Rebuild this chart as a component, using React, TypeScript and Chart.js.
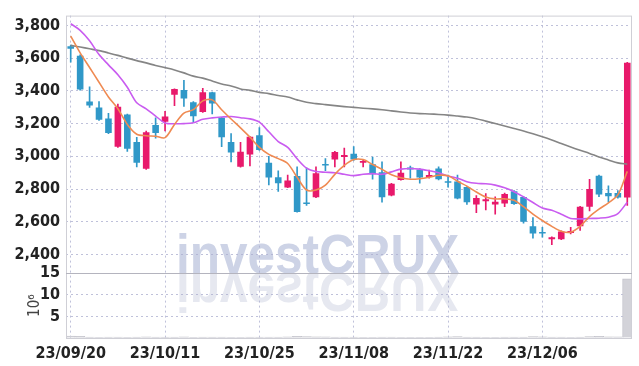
import React, { useEffect, useRef } from "react";
import { Chart, registerables } from "chart.js";
Chart.register(...registerables);

const dates = [
  "23/09/20","23/09/21","23/09/22","23/09/25","23/09/26","23/09/27","23/10/04","23/10/05","23/10/06","23/10/10",
  "23/10/11","23/10/12","23/10/13","23/10/16","23/10/17","23/10/18","23/10/19","23/10/20","23/10/23","23/10/24",
  "23/10/25","23/10/26","23/10/27","23/10/30","23/10/31","23/11/01","23/11/02","23/11/03","23/11/06","23/11/07",
  "23/11/08","23/11/09","23/11/10","23/11/13","23/11/14","23/11/15","23/11/16","23/11/17","23/11/20","23/11/21",
  "23/11/22","23/11/23","23/11/24","23/11/27","23/11/28","23/11/29","23/11/30","23/12/01","23/12/04","23/12/05",
  "23/12/06","23/12/07","23/12/08","23/12/11","23/12/12","23/12/13","23/12/14","23/12/15","23/12/18","23/12/19",
];

const opens = [
  3672,3614,3335,3299,3231,3059,3255,3087,2924,3191,
  3211,3377,3405,3331,3271,3391,3235,3087,2936,3011,
  3129,2960,2872,2810,2880,2712,2750,2948,2981,2996,
  3016,2960,2952,2902,2760,2856,2932,2920,2874,2926,
  2842,2846,2812,2706,2726,2706,2712,2786,2752,2572,
  2532,2493,2493,2532,2572,2692,2882,2776,2776,2748,
];
const highs = [
  3680,3620,3425,3335,3263,3319,3258,3116,3155,3235,
  3275,3413,3465,3335,3415,3393,3238,3139,3085,3121,
  3175,3000,2912,2886,2936,2930,2936,2986,3030,3051,
  3059,2975,2996,2966,2835,2966,2940,2925,2916,2936,
  2886,2886,2815,2760,2772,2752,2775,2790,2755,2626,
  2566,2508,2544,2566,2695,2860,2885,2820,2790,3575,
];
const lows = [
  3575,3405,3299,3220,3138,3055,3030,2936,2920,3111,
  3155,3309,3305,3209,3268,3259,3059,2966,2934,2942,
  3036,2826,2786,2808,2658,2700,2748,2912,2936,2936,
  2975,2936,2860,2720,2758,2854,2866,2836,2866,2856,
  2812,2740,2706,2656,2672,2646,2692,2706,2592,2500,
  2506,2460,2490,2526,2547,2667,2754,2722,2745,2700,
];
const closes = [
  3658,3409,3311,3223,3143,3303,3047,2960,3147,3143,
  3243,3411,3353,3245,3391,3323,3116,3023,3028,3119,
  3039,2870,2836,2852,2660,2708,2896,2944,3026,3008,
  2980,2972,2890,2750,2832,2900,2920,2870,2886,2860,
  2838,2742,2720,2746,2738,2722,2770,2708,2600,2528,
  2528,2505,2541,2544,2692,2800,2766,2756,2748,3572,
];
// volume in millions of shares
const volumes = [
  0.45,0.4,0.2,0.15,0.2,0.2,0.15,0.2,0.25,0.2,
  0.2,0.2,0.25,0.15,0.2,0.2,0.2,0.15,0.15,0.2,
  0.2,0.2,0.2,0.25,0.4,0.35,0.3,0.25,0.2,0.2,
  0.2,0.15,0.15,0.2,0.2,0.15,0.15,0.15,0.15,0.2,
  0.3,0.35,0.2,0.2,0.15,0.15,0.2,0.2,0.2,0.35,
  0.3,0.2,0.2,0.15,0.2,0.35,0.4,0.3,0.25,13.7,
];
const maShort = [
  3734,3632,3543,3453,3363,3291,3195,3135,3126,3123,
  3114,3195,3264,3285,3339,3345,3285,3228,3174,3117,
  3055,3012,2986,2956,2872,2794,2794,2824,2890,2944,
  2980,2980,2950,2920,2887,2869,2860,2863,2872,2884,
  2881,2848,2818,2782,2752,2740,2740,2731,2692,2647,
  2608,2572,2542,2536,2572,2632,2677,2716,2764,2908,
];
const maMid = [
  3810,3770,3706,3622,3559,3498,3422,3327,3290,3246,
  3204,3199,3200,3205,3226,3235,3240,3243,3236,3229,
  3209,3150,3090,3055,2985,2928,2907,2903,2900,2890,
  2882,2890,2894,2890,2905,2922,2926,2922,2912,2900,
  2880,2866,2845,2835,2832,2824,2808,2784,2752,2718,
  2684,2670,2646,2620,2618,2620,2622,2628,2650,2720,
];
const maLong = [
  3678,3668,3657,3646,3632,3617,3600,3585,3571,3555,
  3542,3528,3510,3490,3478,3460,3442,3430,3412,3403,
  3391,3383,3372,3362,3345,3330,3322,3316,3310,3304,
  3299,3294,3290,3285,3278,3271,3265,3261,3259,3256,
  3252,3246,3240,3230,3215,3200,3185,3170,3155,3138,
  3120,3100,3078,3057,3037,3018,2996,2978,2960,2952,
];
const priceTicks = [2400, 2600, 2800, 3000, 3200, 3400, 3600, 3800];
const volumeTicks = [0, 5, 10, 15];

const UP = "#e8196b";
const DOWN = "#3098c8";
const FONT = "'Liberation Sans Narrow', 'DejaVu Sans Condensed', sans-serif";
const GRID = "rgba(170,172,205,0.75)";

const deco = {
  id: "deco",
  beforeDraw(chart: any) {
    const { ctx, width, height } = chart;
    ctx.save();
    ctx.fillStyle = "#ffffff";
    ctx.fillRect(0, 0, width, height);
    const volTop = chart.scales.yVol.top;
    ctx.font = "bold 55px 'Liberation Sans', Arial, sans-serif";
    ctx.textBaseline = "alphabetic";
    ctx.textAlign = "left";
    ctx.save();
    ctx.translate(176, volTop);
    ctx.scale(0.9, 1);
    ctx.fillStyle = "rgba(205,211,230,1)";
    ctx.fillText("investCRUX", 0, 0);
    ctx.restore();
    ctx.save();
    ctx.beginPath();
    ctx.rect(0, volTop, width, 44);
    ctx.clip();
    ctx.translate(176, volTop);
    ctx.scale(0.9, -1);
    ctx.fillStyle = "rgba(230,232,240,1)";
    ctx.fillText("investCRUX", 0, 0);
    ctx.restore();
    ctx.restore();
  },
  afterDraw(chart: any) {
    const { ctx, chartArea } = chart;
    const volTop = chart.scales.yVol.top;
    ctx.save();
    ctx.strokeStyle = "#cfcfd6";
    ctx.lineWidth = 1;
    ctx.strokeRect(chartArea.left + 0.5, chartArea.top + 0.5, chartArea.right - chartArea.left - 1, chartArea.bottom - chartArea.top);
    ctx.strokeStyle = "#b4b4be";
    ctx.beginPath();
    ctx.moveTo(chartArea.left, Math.round(volTop) + 0.5);
    ctx.lineTo(chartArea.right, Math.round(volTop) + 0.5);
    ctx.stroke();
    ctx.translate(35, (volTop + chartArea.bottom) / 2);
    ctx.rotate(-Math.PI / 2);
    ctx.fillStyle = "#444";
    ctx.font = "15px " + FONT;
    ctx.textAlign = "center";
    ctx.textBaseline = "middle";
    ctx.fillText("10⁶", 0, 0);
    ctx.restore();
  },
};

export default function App() {
  const ref = useRef<HTMLCanvasElement | null>(null);
  useEffect(() => {
    document.body.style.margin = "0";
    const colors = opens.map((o, i) => (closes[i] > o ? UP : DOWN));
    const tickFont = { family: FONT, size: 16, weight: "bold" as const };
    const chart = new Chart(ref.current as HTMLCanvasElement, {
      type: "bar",
      data: {
        labels: dates,
        datasets: [
          { type: "line", label: "MA5", data: maShort, borderColor: "#ef8a52", borderWidth: 1.6, pointRadius: 0, tension: 0.3, yAxisID: "y", order: 0 } as any,
          { type: "line", label: "MA20", data: maMid, borderColor: "#c95cf0", borderWidth: 1.6, pointRadius: 0, tension: 0.3, yAxisID: "y", order: 0 } as any,
          { type: "line", label: "MA60", data: maLong, borderColor: "#858585", borderWidth: 1.6, pointRadius: 0, tension: 0.3, yAxisID: "y", order: 0 } as any,
          { type: "bar", label: "wick", data: lows.map((l, i) => [l, highs[i]]), backgroundColor: colors, barThickness: 1, grouped: false, yAxisID: "y", order: 2 } as any,
          { type: "bar", label: "body", data: opens.map((o, i) => [o, closes[i]]), backgroundColor: colors, barPercentage: 0.7, categoryPercentage: 1, minBarLength: 1.5, grouped: false, yAxisID: "y", order: 1 } as any,
          { type: "bar", label: "volume", data: volumes, backgroundColor: "#d3d3d9", borderColor: "#c4c4cc", borderWidth: 1, barPercentage: 1, categoryPercentage: 1, grouped: false, yAxisID: "yVol", order: 3 } as any,
        ],
      },
      options: {
        animation: false,
        responsive: false,
        maintainAspectRatio: false,
        layout: { padding: { top: 9, right: 7, left: 0, bottom: 0 } },
        plugins: { legend: { display: false }, tooltip: { enabled: false } },
        scales: {
          x: {
            type: "category",
            offset: true,
            grid: { offset: false, color: GRID, drawTicks: false },
            border: { display: false, dash: [2, 3] },
            ticks: { autoSkip: false, maxRotation: 0, color: "#222", font: tickFont, padding: 6 },
            afterBuildTicks: (s: any) => {
              s.ticks = s.ticks.filter((_t: any, i: number) => i % 10 === 0);
            },
            afterFit: (s: any) => {
              s.height = 28;
            },
          },
          y: {
            type: "linear",
            position: "left",
            stack: "panes",
            stackWeight: 263,
            weight: 2,
            min: 2285,
            max: 3860,
            grid: { color: GRID, drawTicks: false },
            border: { display: false, dash: [2, 3] },
            ticks: {
              autoSkip: false,
              color: "#222",
              font: tickFont,
              padding: 6,
              callback: (v: any) => Number(v).toLocaleString("en-US"),
            },
            afterBuildTicks: (s: any) => {
              s.ticks = priceTicks.map((v) => ({ value: v }));
            },
            afterFit: (s: any) => {
              s.width = 66;
            },
          },
          yVol: {
            type: "linear",
            position: "left",
            stack: "panes",
            stackWeight: 66,
            weight: 1,
            min: 0,
            max: 15,
            grid: { color: (c: any) => (c.tick && c.tick.value > 0 && c.tick.value < 15 ? GRID : "rgba(0,0,0,0)"), drawTicks: false },
            border: { display: false, dash: [2, 3] },
            ticks: {
              autoSkip: false,
              color: "#222",
              font: tickFont,
              padding: 6,
              callback: (v: any) => (v === 0 ? "" : String(v)),
            },
            afterBuildTicks: (s: any) => {
              s.ticks = volumeTicks.map((v) => ({ value: v }));
            },
            afterFit: (s: any) => {
              s.width = 66;
            },
          },
        },
      },
      plugins: [deco],
    });
    return () => chart.destroy();
  }, []);
  return (
    <div style={{ position: "fixed", left: 0, top: 0, width: 639, height: 366 }}>
      <canvas ref={ref} width={639} height={366} style={{ width: 639, height: 366 }} />
    </div>
  );
}
